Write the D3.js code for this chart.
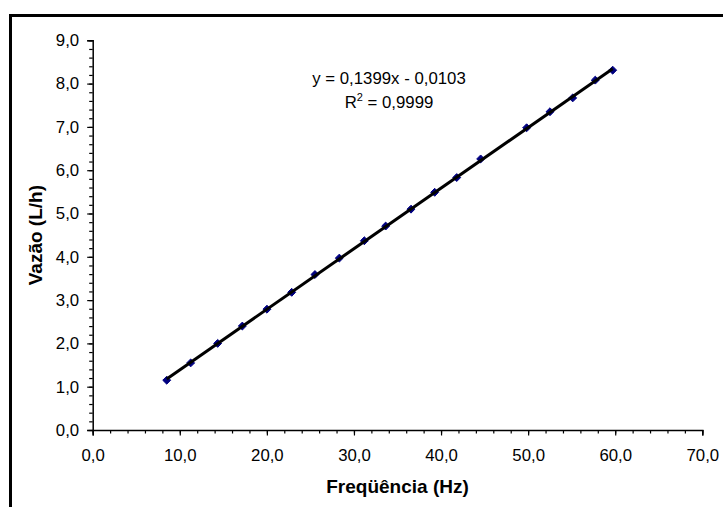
<!DOCTYPE html>
<html>
<head>
<meta charset="utf-8">
<script src="https://cdn.jsdelivr.net/npm/d3@7"></script>
<style>
  body { margin: 0; background: #fff; }
  text { font-family: Arial, "Liberation Sans", sans-serif; }
</style>
</head>
<body>
<div class="chart"></div>
<script>
// data
var freq = [8.50, 11.25, 14.35, 17.18, 20.01, 22.85, 25.52, 28.32, 31.19, 33.64,
            36.55, 39.27, 41.80, 44.55, 49.83, 52.51, 55.12, 57.71, 59.71];
var vazao = [1.15, 1.55, 2.00, 2.40, 2.79, 3.18, 3.59, 3.97, 4.37, 4.71,
             5.10, 5.49, 5.83, 6.26, 6.98, 7.35, 7.67, 8.08, 8.31];
var xTicks = [0, 10, 20, 30, 40, 50, 60, 70];
var yTicks = [0, 1, 2, 3, 4, 5, 6, 7, 8, 9];
var slope = 0.1399, intercept = -0.0103;

var svgWidth = 723, svgHeight = 507;
var margin = { top: 40.3, left: 92.7, right: 20.7, bottom: 77 };
var width = svgWidth - margin.left - margin.right;
var height = svgHeight - margin.top - margin.bottom;

var svg = d3.select(".chart").append("svg")
  .attr("width", svgWidth)
  .attr("height", svgHeight);

// outer chart frame (runs off the right and bottom edges)
svg.append("rect")
  .attr("x", 10.5).attr("y", 15.5)
  .attr("width", 800).attr("height", 600)
  .attr("fill", "none")
  .attr("stroke", "black")
  .attr("stroke-width", 3);

var chartGroup = svg.append("g")
  .attr("transform", `translate(${margin.left}, ${margin.top})`);

var xScale = d3.scaleLinear().domain([0, 70]).range([0, width]);
var yScale = d3.scaleLinear().domain([0, 9]).range([height, 0]);

var fmt = d => d.toFixed(1).replace(".", ",");

// minor ticks first
chartGroup.append("g")
  .attr("transform", `translate(0, ${height})`)
  .call(d3.axisBottom(xScale).tickValues(d3.range(0, 70.01, 2)).tickSize(3.5).tickFormat(""))
  .call(g => g.select(".domain").remove());
chartGroup.append("g")
  .call(d3.axisLeft(yScale).tickValues(d3.range(0, 9.01, 0.2)).tickSize(3.5).tickFormat(""))
  .call(g => g.select(".domain").remove());

var xAxis = chartGroup.append("g")
  .attr("transform", `translate(0, ${height})`)
  .call(d3.axisBottom(xScale).tickValues(xTicks).tickSize(5.5).tickPadding(14).tickFormat(fmt));
var yAxis = chartGroup.append("g")
  .call(d3.axisLeft(yScale).tickValues(yTicks).tickSize(5.5).tickPadding(8).tickFormat(fmt));

chartGroup.selectAll(".domain").attr("stroke-width", 1.5);
chartGroup.selectAll(".tick line").attr("stroke-width", 1.2);
chartGroup.selectAll(".tick text")
  .attr("font-size", "16.8px")
  .attr("fill", "black")
  .attr("font-family", "Arial, 'Liberation Sans', sans-serif");

// markers
chartGroup.selectAll("path.pt")
  .data(freq)
  .enter()
  .append("path")
  .attr("class", "pt")
  .attr("d", d3.symbol().type(d3.symbolDiamond2).size(40))
  .attr("transform", (d, i) => `translate(${xScale(d)}, ${yScale(vazao[i])})`)
  .attr("fill", "#000080")
  .attr("stroke", "#000080")
  .attr("stroke-width", 1);

// linear trend line
var x0 = d3.min(freq), x1 = d3.max(freq);
chartGroup.append("line")
  .attr("x1", xScale(x0)).attr("y1", yScale(slope * x0 + intercept))
  .attr("x2", xScale(x1)).attr("y2", yScale(slope * x1 + intercept))
  .attr("stroke", "black")
  .attr("stroke-width", 3);

// equation label
svg.append("text")
  .attr("x", 389).attr("y", 84)
  .attr("text-anchor", "middle")
  .attr("font-size", "16.8px")
  .text("y = 0,1399x - 0,0103");
var r2 = svg.append("text")
  .attr("x", 389).attr("y", 108)
  .attr("text-anchor", "middle")
  .attr("font-size", "16.8px");
r2.append("tspan").text("R");
r2.append("tspan").attr("font-size", "11px").attr("dy", -7).text("2");
r2.append("tspan").attr("dy", 7).text(" = 0,9999");

// axis titles
svg.append("text")
  .attr("x", margin.left + width / 2).attr("y", 493)
  .attr("text-anchor", "middle")
  .attr("font-size", "19px")
  .attr("font-weight", "bold")
  .text("Freqüência (Hz)");

svg.append("text")
  .attr("transform", `translate(42, ${margin.top + height / 2}) rotate(-90)`)
  .attr("text-anchor", "middle")
  .attr("font-size", "19px")
  .attr("font-weight", "bold")
  .text("Vazão (L/h)");
</script>
</body>
</html>
